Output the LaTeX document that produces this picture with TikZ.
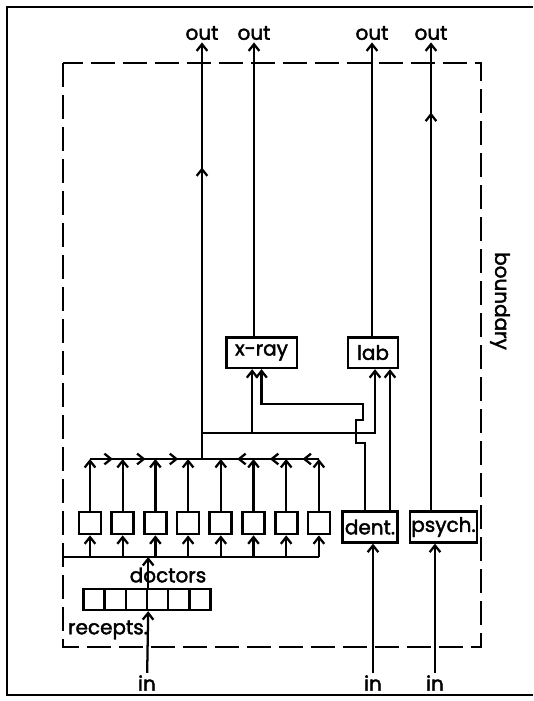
\documentclass[tikz,border=0pt]{standalone}
\usepackage{fontspec}
\setmainfont{Poppins}[BoldFont=Poppins, BoldFeatures={FakeBold=2}]
\usetikzlibrary{arrows.meta,decorations.markings}

\begin{document}
\begin{tikzpicture}[
    x=0.75pt, y=-0.75pt,
    line width=1.7pt,
    >={Straight Barb[length=5pt,width=8pt]},
    font=\fontsize{15}{18}\selectfont\bfseries,
    unit/.style={draw, line width=2pt, minimum height=23pt, inner sep=1pt},
    doc/.style={draw, line width=2pt, minimum size=16.5pt, inner sep=0pt},
    cell/.style={draw, line width=1.8pt, minimum width=15.9pt, minimum height=15.75pt, inner sep=0pt},
    lbl/.style={inner sep=1pt},
    boundary/.style={dash pattern=on 18pt off 6pt, line width=1.9pt},
    flow/.style={postaction={decorate},
        decoration={markings, mark=at position #1 with {\arrow{>}}}}
]
    \useasboundingbox (0,0) rectangle (533,701);
    \draw[line width=1.7pt] (533,7) -- (7,7) -- (7,695) -- (533,695);
    \draw[boundary] (63,63) rectangle (481,647);
    \node[rotate=-90] (bnd) at (500,301) {boundary};

    \node[unit, minimum width=53pt] (xray) at (261.5,352.5) {x-ray};
    \node[unit, minimum width=37.5pt] (lab) at (373,352.5) {lab};
    \node[unit, minimum width=41pt] (dent) at (370,527) {dent.};
    \node[unit, minimum width=50pt] (psych) at (443.5,527) {psych.};

    \foreach \n/\x in {A/202,B/254,C/372,D/431}
        \node[lbl] (out\n) at (\x,33) {out};
    \foreach \n/\x in {R/147,T/373,P/435}
        \node[lbl] (in\n) at (\x,683) {in};

    \foreach \i in {1,...,8}
        \node[doc] (d\i) at (57.3+32.7*\i,523) {};
    \foreach \i in {1,...,6}
        \node[cell] (q\i) at (72.8+21.2*\i,599.5) {};
    \node (doclbl) at (168,575) {doctors};
    \node (rec) at (108,630) {recepts.};

    \coordinate (lo) at (63,557);
    \coordinate (hi) at (202,459);
    \coordinate (jB) at (202,433);
    \coordinate (labR) at ([xshift=12.75pt]lab.south);

    \draw[->] (inR) -- (q3.south east);
    \draw[->] (q3.north east) -- (q3.north east |- lo);
    \draw (lo) -- (d8.south |- lo);
    \foreach \i in {1,...,8} {
        \draw[->] (d\i.south |- lo) -- (d\i.south);
        \draw[->] (d\i.north) -- (d\i.north |- hi);
    }
    \foreach \i/\j in {1/2,2/3,3/4}
        \draw[flow=0.7] (d\i.north |- hi) -- (d\j.north |- hi);
    \foreach \i/\j in {8/7,7/6,6/5}
        \draw[flow=0.5] (d\i.north |- hi) -- (d\j.north |- hi);
    \draw (d4.north |- hi) -- (d5.north |- hi);

    \draw[->, flow=0.7] (hi) -- (outA);
    \draw[->] (jB) -| ([xshift=-7pt]xray.south);
    \draw[->] (jB) -| ([xshift=1.5pt]lab.south);
    \draw[->] ([xshift=-3.75pt]dent.north) -- ++(0,-67) -- ++(-9,0) -- ++(0,-23)
        -- ++(7,0) -- ++(0,-16) -| (xray.south);
    \draw[->] (labR |- dent.north) -- (labR);

    \draw[->] (outB |- xray.north) -- (outB);
    \draw[->] (outC |- lab.north) -- (outC);
    \draw[->, flow=0.85] (outD |- psych.north) -- (outD);
    \draw[->] (inT) -- (inT |- dent.south);
    \draw[->] (inP) -- (inP |- psych.south);
\end{tikzpicture}
\end{document}
